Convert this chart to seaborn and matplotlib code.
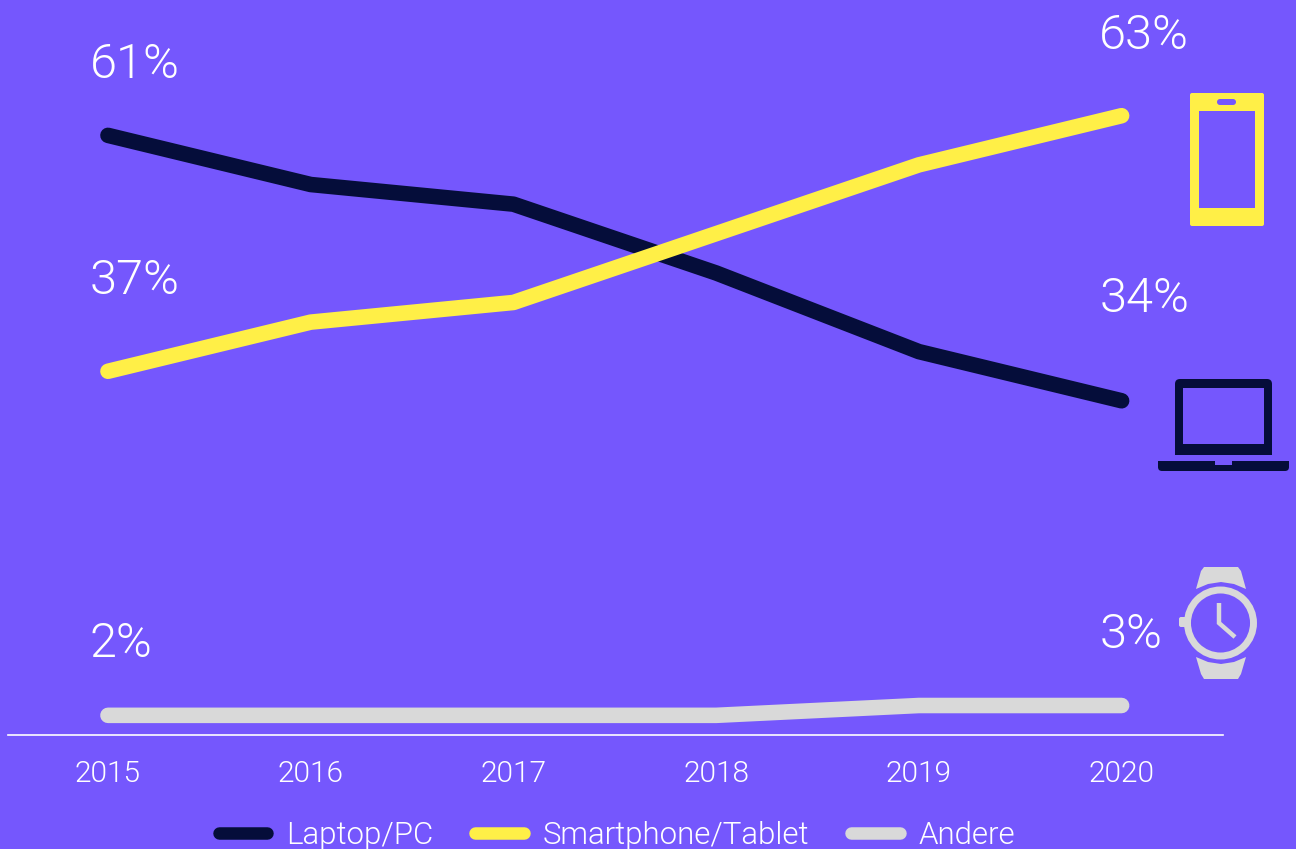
import pandas as pd
import matplotlib.pyplot as plt
import seaborn as sns
from matplotlib.patches import FancyBboxPatch, Polygon, Rectangle, Ellipse

years = [2015, 2016, 2017, 2018, 2019, 2020]
laptop = [61, 56, 54, 47, 39, 34]
smartphone = [37, 42, 44, 51, 58, 63]
andere = [2, 2, 2, 2, 3, 3]

bg = "#7557FD"
dark = "#050D3A"
yellow = "#FFEF47"
grey = "#D9D9D9"
font = "Roboto"

df = pd.DataFrame({"Jahr": years, "Laptop/PC": laptop, "Smartphone/Tablet": smartphone, "Andere": andere})
long_df = df.melt(id_vars="Jahr", var_name="Gerät", value_name="Anteil")

sns.set_theme(style="white")
plt.rcParams["font.family"] = [font, "DejaVu Sans"]

fig = plt.figure(figsize=(12.96, 8.49), dpi=100, facecolor=bg)
ax = fig.add_axes([8 / 1296, 114 / 849, 1215 / 1296, 735 / 849], facecolor="none")

sns.lineplot(data=long_df, x="Jahr", y="Anteil", hue="Gerät", ax=ax,
             palette={"Laptop/PC": dark, "Smartphone/Tablet": yellow, "Andere": grey},
             linewidth=11.2, solid_capstyle="round", solid_joinstyle="round", clip_on=False)

ax.set_xlim(2014.507, 2020.5)
ax.set_ylim(0, 74.77)
ax.set_xlabel("")
ax.set_ylabel("")
ax.set_xticks(years)
ax.set_yticks([])
ax.tick_params(axis="x", length=0, pad=18, labelsize=21.5, labelcolor="white")
for t in ax.get_xticklabels():
    t.set_fontweight(300)
for s in ["top", "left", "right"]:
    ax.spines[s].set_visible(False)
ax.spines["bottom"].set_color("white")
ax.spines["bottom"].set_linewidth(1.2)

# Prozentwerte am Anfang und Ende
for x, y, lab in [(2014.91, 66.8, "61%"), (2014.91, 44.9, "37%"), (2014.91, 7.9, "2%"),
                  (2019.89, 69.8, "63%"), (2019.89, 43.0, "34%"), (2019.89, 8.8, "3%")]:
    ax.text(x, y, lab, color="white", fontsize=35, fontweight=300, ha="left", va="baseline")

handles, labels = ax.get_legend_handles_labels()
leg = ax.legend(handles, labels, loc="center", bbox_to_anchor=(617 / 1296, 1 - 835 / 849),
                bbox_transform=fig.transFigure, ncol=3, frameon=False, fontsize=22.5,
                handlelength=1.55, handletextpad=0.6, columnspacing=1.35, borderpad=0, borderaxespad=0)
for line in leg.get_lines():
    line.set_linewidth(9)
    line.set_solid_capstyle("round")
for t in leg.get_texts():
    t.set_color("white")
    t.set_fontweight(300)

# Icons in Pixelkoordinaten
ic = fig.add_axes([0, 0, 1, 1], facecolor="none")
ic.set_xlim(0, 1296)
ic.set_ylim(849, 0)
ic.axis("off")

# Smartphone
ic.add_patch(FancyBboxPatch((1190, 93), 74, 133, boxstyle="round,pad=0,rounding_size=2", fc=yellow, ec="none"))
ic.add_patch(Rectangle((1199, 111), 56, 97, fc=bg, ec="none"))
ic.add_patch(FancyBboxPatch((1217, 99), 19, 6, boxstyle="round,pad=0,rounding_size=3", fc=bg, ec="none"))

# Laptop
ic.add_patch(FancyBboxPatch((1175, 379), 97, 76, boxstyle="round,pad=0,rounding_size=5", fc=dark, ec="none"))
ic.add_patch(Rectangle((1175, 448), 97, 7, fc=dark, ec="none"))
ic.add_patch(Rectangle((1183, 388), 81, 56, fc=bg, ec="none"))
ic.add_patch(FancyBboxPatch((1158, 461), 131, 10, boxstyle="round,pad=0,rounding_size=4", fc=dark, ec="none"))
ic.add_patch(Rectangle((1158, 461), 131, 4, fc=dark, ec="none"))
ic.add_patch(Rectangle((1215, 461), 17, 4, fc=bg, ec="none"))

# Uhr
ic.add_patch(Polygon([(1196, 589), (1201, 571), (1204, 567), (1238, 567), (1241, 571), (1246, 589),
                      (1234, 584), (1221, 582), (1208, 584)], fc=grey, ec="none"))
ic.add_patch(Polygon([(1196, 657), (1201, 674), (1204, 679), (1238, 679), (1241, 674), (1246, 657),
                      (1234, 662), (1221, 664), (1208, 662)], fc=grey, ec="none"))
ic.add_patch(FancyBboxPatch((1179, 617), 10, 10, boxstyle="round,pad=0,rounding_size=2", fc=grey, ec="none"))
ic.add_patch(Ellipse((1220.5, 623), 66, 66, fc=bg, ec=grey, lw=5))
ic.plot([1219, 1219, 1235], [603, 623, 637], color=grey, lw=3.2, solid_capstyle="butt", solid_joinstyle="miter")

fig.savefig("out.png", dpi=100, facecolor=bg)
